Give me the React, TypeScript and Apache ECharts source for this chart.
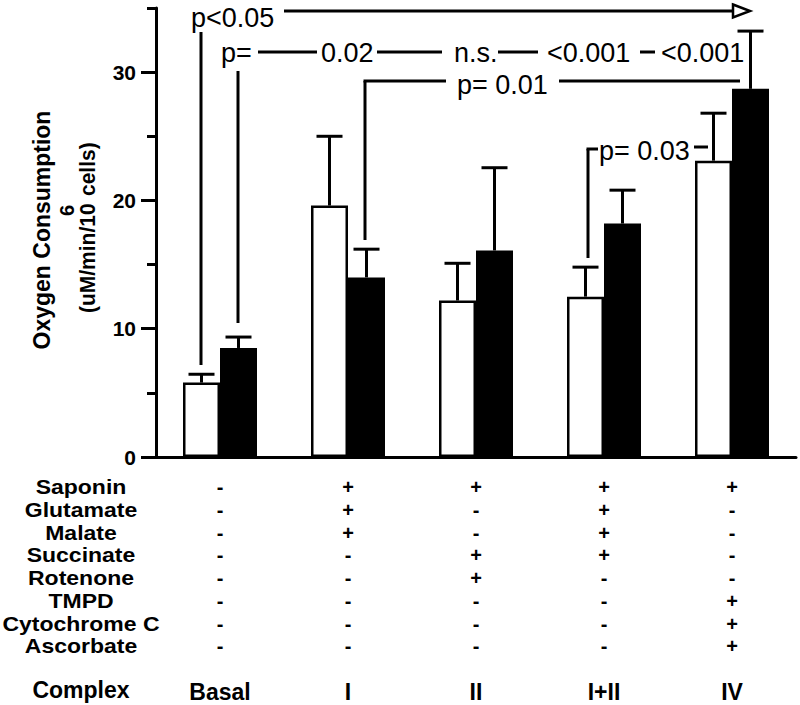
import React, { useEffect, useRef } from 'react';
import * as echarts from 'echarts';

// ---- data ----
const complexes = ['Basal', 'I', 'II', 'I+II', 'IV'];
const openMeans = [5.8, 19.6, 12.2, 12.5, 23.1];
const openUpper = [6.45, 25.0, 15.1, 14.8, 26.8];
const filledMeans = [8.5, 14.0, 16.1, 18.2, 28.7];
const filledUpper = [9.35, 16.2, 22.55, 20.8, 33.2];
const yMajorTicks = [0, 10, 20, 30];
const yMinorTicks = [5, 15, 25, 35];

const reagents = ['Saponin', 'Glutamate', 'Malate', 'Succinate', 'Rotenone', 'TMPD', 'Cytochrome C', 'Ascorbate'];
const saponin = ['-', '+', '+', '+', '+'];
const glutamate = ['-', '+', '-', '+', '-'];
const malate = ['-', '+', '-', '+', '-'];
const succinate = ['-', '-', '+', '+', '-'];
const rotenone = ['-', '-', '+', '-', '-'];
const tmpd = ['-', '-', '-', '-', '+'];
const cytochromeC = ['-', '-', '-', '-', '+'];
const ascorbate = ['-', '-', '-', '-', '+'];
const treatmentRows = [saponin, glutamate, malate, succinate, rotenone, tmpd, cytochromeC, ascorbate];

const FONT = '"Liberation Sans", Arial, Helvetica, sans-serif';
const BAR_W = 37;
const ROW_H = 22.7;

const line = (x1: number, y1: number, x2: number, y2: number) => ({
  type: 'line',
  shape: { x1, y1, x2, y2 },
  style: { stroke: '#000', lineWidth: 3 },
  z: 100,
});
const note = (text: string, x: number, y: number) => ({
  type: 'text',
  x,
  y,
  z: 100,
  style: { text, fontSize: 27, fontFamily: FONT, fill: '#000', align: 'left', verticalAlign: 'middle' },
});

const errorSeries = (means: number[], uppers: number[], side: number) => ({
  type: 'custom',
  z: 5,
  data: means.map((m, i) => [i, m, uppers[i]]),
  encode: { x: 0, y: [1, 2] },
  renderItem: (params: any, api: any) => {
    const i = api.value(0);
    const base = api.coord([i, api.value(1)]);
    const top = api.coord([i, api.value(2)]);
    const x = base[0] + (side * BAR_W) / 2;
    return {
      type: 'group',
      children: [
        { type: 'line', shape: { x1: x, y1: base[1], x2: x, y2: top[1] }, style: { stroke: '#000', lineWidth: 3 } },
        { type: 'line', shape: { x1: x - 13, y1: top[1], x2: x + 13, y2: top[1] }, style: { stroke: '#000', lineWidth: 3 } },
      ],
    };
  },
});

export default function App() {
  const ref = useRef<HTMLDivElement>(null);
  useEffect(() => {
    document.body.style.margin = '0';
    const chart = echarts.init(ref.current!, null, { renderer: 'svg' });
    const labelFor = (idx: number) =>
      treatmentRows.map((r) => r[idx]).join('\n') + '\n\n{c|' + complexes[idx] + '}';
    chart.setOption({
      animation: false,
      backgroundColor: '#fff',
      grid: { left: 156, right: 4, top: 8, bottom: 248, containLabel: false },
      xAxis: {
        type: 'category',
        data: complexes,
        axisLine: { lineStyle: { color: '#000', width: 3 } },
        axisTick: { alignWithLabel: true, length: 9, lineStyle: { color: '#000', width: 3 } },
        axisLabel: {
          interval: 0,
          margin: 19,
          color: '#000',
          fontSize: 20,
          fontWeight: 'bold',
          fontFamily: FONT,
          lineHeight: ROW_H,
          formatter: (_v: string, idx: number) => labelFor(idx),
          rich: {
            c: { fontSize: 23, fontWeight: 'bold', fontFamily: FONT, color: '#000', lineHeight: ROW_H },
          },
        },
      },
      yAxis: [
        {
          type: 'value',
          min: 0,
          max: 35,
          interval: 5,
          position: 'left',
          splitLine: { show: false },
          axisLine: { show: true, lineStyle: { color: '#000', width: 3 } },
          axisTick: { show: true, length: 15, customValues: yMajorTicks, lineStyle: { color: '#000', width: 3 } },
          axisLabel: {
            customValues: yMajorTicks,
            margin: 20,
            color: '#000',
            fontSize: 21,
            fontWeight: 'bold',
            fontFamily: FONT,
          },
        },
        {
          type: 'value',
          min: 0,
          max: 35,
          interval: 5,
          position: 'left',
          offset: 0,
          splitLine: { show: false },
          axisLine: { show: false },
          axisTick: { show: true, length: 9, customValues: yMinorTicks, lineStyle: { color: '#000', width: 3 } },
          axisLabel: { show: false },
        },
      ],
      series: [
        {
          type: 'bar',
          data: openMeans,
          barWidth: BAR_W,
          barGap: '0%',
          itemStyle: { color: '#fff', borderColor: '#000', borderWidth: 2.5 },
        },
        {
          type: 'bar',
          data: filledMeans,
          barWidth: BAR_W,
          barGap: '0%',
          itemStyle: { color: '#000', borderColor: '#000', borderWidth: 2.5 },
        },
        errorSeries(openMeans, openUpper, -1),
        errorSeries(filledMeans, filledUpper, 1),
      ],
      graphic: [
        // y-axis title
        {
          type: 'text', x: 41, y: 230, rotation: Math.PI / 2, scaleY: 1.08,
          style: { text: 'Oxygen Consumption', fontSize: 23, fontWeight: 'bold', fontFamily: FONT, fill: '#000', align: 'center', verticalAlign: 'middle' },
        },
        {
          type: 'text', x: 87, y: 313, rotation: Math.PI / 2, scaleY: 1.08,
          style: { text: '(uM/min/10', fontSize: 21, fontWeight: 'bold', fontFamily: FONT, fill: '#000', align: 'left', verticalAlign: 'middle' },
        },
        {
          type: 'text', x: 67, y: 216, rotation: Math.PI / 2,
          style: { text: '6', fontSize: 20, fontWeight: 'bold', fontFamily: FONT, fill: '#000', align: 'left', verticalAlign: 'middle' },
        },
        {
          type: 'text', x: 87, y: 196, rotation: Math.PI / 2, scaleY: 1.08,
          style: { text: 'cells)', fontSize: 21, fontWeight: 'bold', fontFamily: FONT, fill: '#000', align: 'left', verticalAlign: 'middle' },
        },
        // treatment table row headers
        {
          type: 'text', x: 81, y: 476, scaleX: 1.15,
          style: {
            text: reagents.join('\n'),
            fontSize: 20, fontWeight: 'bold', fontFamily: FONT, fill: '#000',
            align: 'center', verticalAlign: 'top', lineHeight: ROW_H,
          },
        },
        {
          type: 'text', x: 81, y: 690,
          style: { text: 'Complex', fontSize: 23, fontWeight: 'bold', fontFamily: FONT, fill: '#000', align: 'center', verticalAlign: 'middle' },
        },
        // significance annotations
        note('p<0.05', 191, 18),
        line(284, 11, 735, 11),
        {
          type: 'polygon', z: 100,
          shape: { points: [[733, 4.5], [750, 11], [733, 17.5]] },
          style: { fill: '#fff', stroke: '#000', lineWidth: 2.5 },
        },
        line(201, 32, 201, 365),
        note('p=', 221, 53),
        line(258, 52, 317, 52),
        note('0.02', 321, 53),
        line(377, 52, 442, 52),
        note('n.s.', 454, 53),
        line(498, 52, 538, 52),
        note('<0.001', 547, 53),
        line(640, 52, 655, 52),
        note('<0.001', 661, 53),
        line(238, 71, 238, 323),
        line(365, 81, 365, 240),
        line(363.5, 81, 446, 81),
        note('p= 0.01', 457, 85),
        line(559, 81, 740, 81),
        line(588, 149, 588, 258),
        line(586.5, 149, 598, 149),
        note('p= 0.03', 599, 151),
        line(694, 147, 708, 147),
      ],
    });
    return () => chart.dispose();
  }, []);
  return <div ref={ref} style={{ width: 800, height: 705 }} />;
}
